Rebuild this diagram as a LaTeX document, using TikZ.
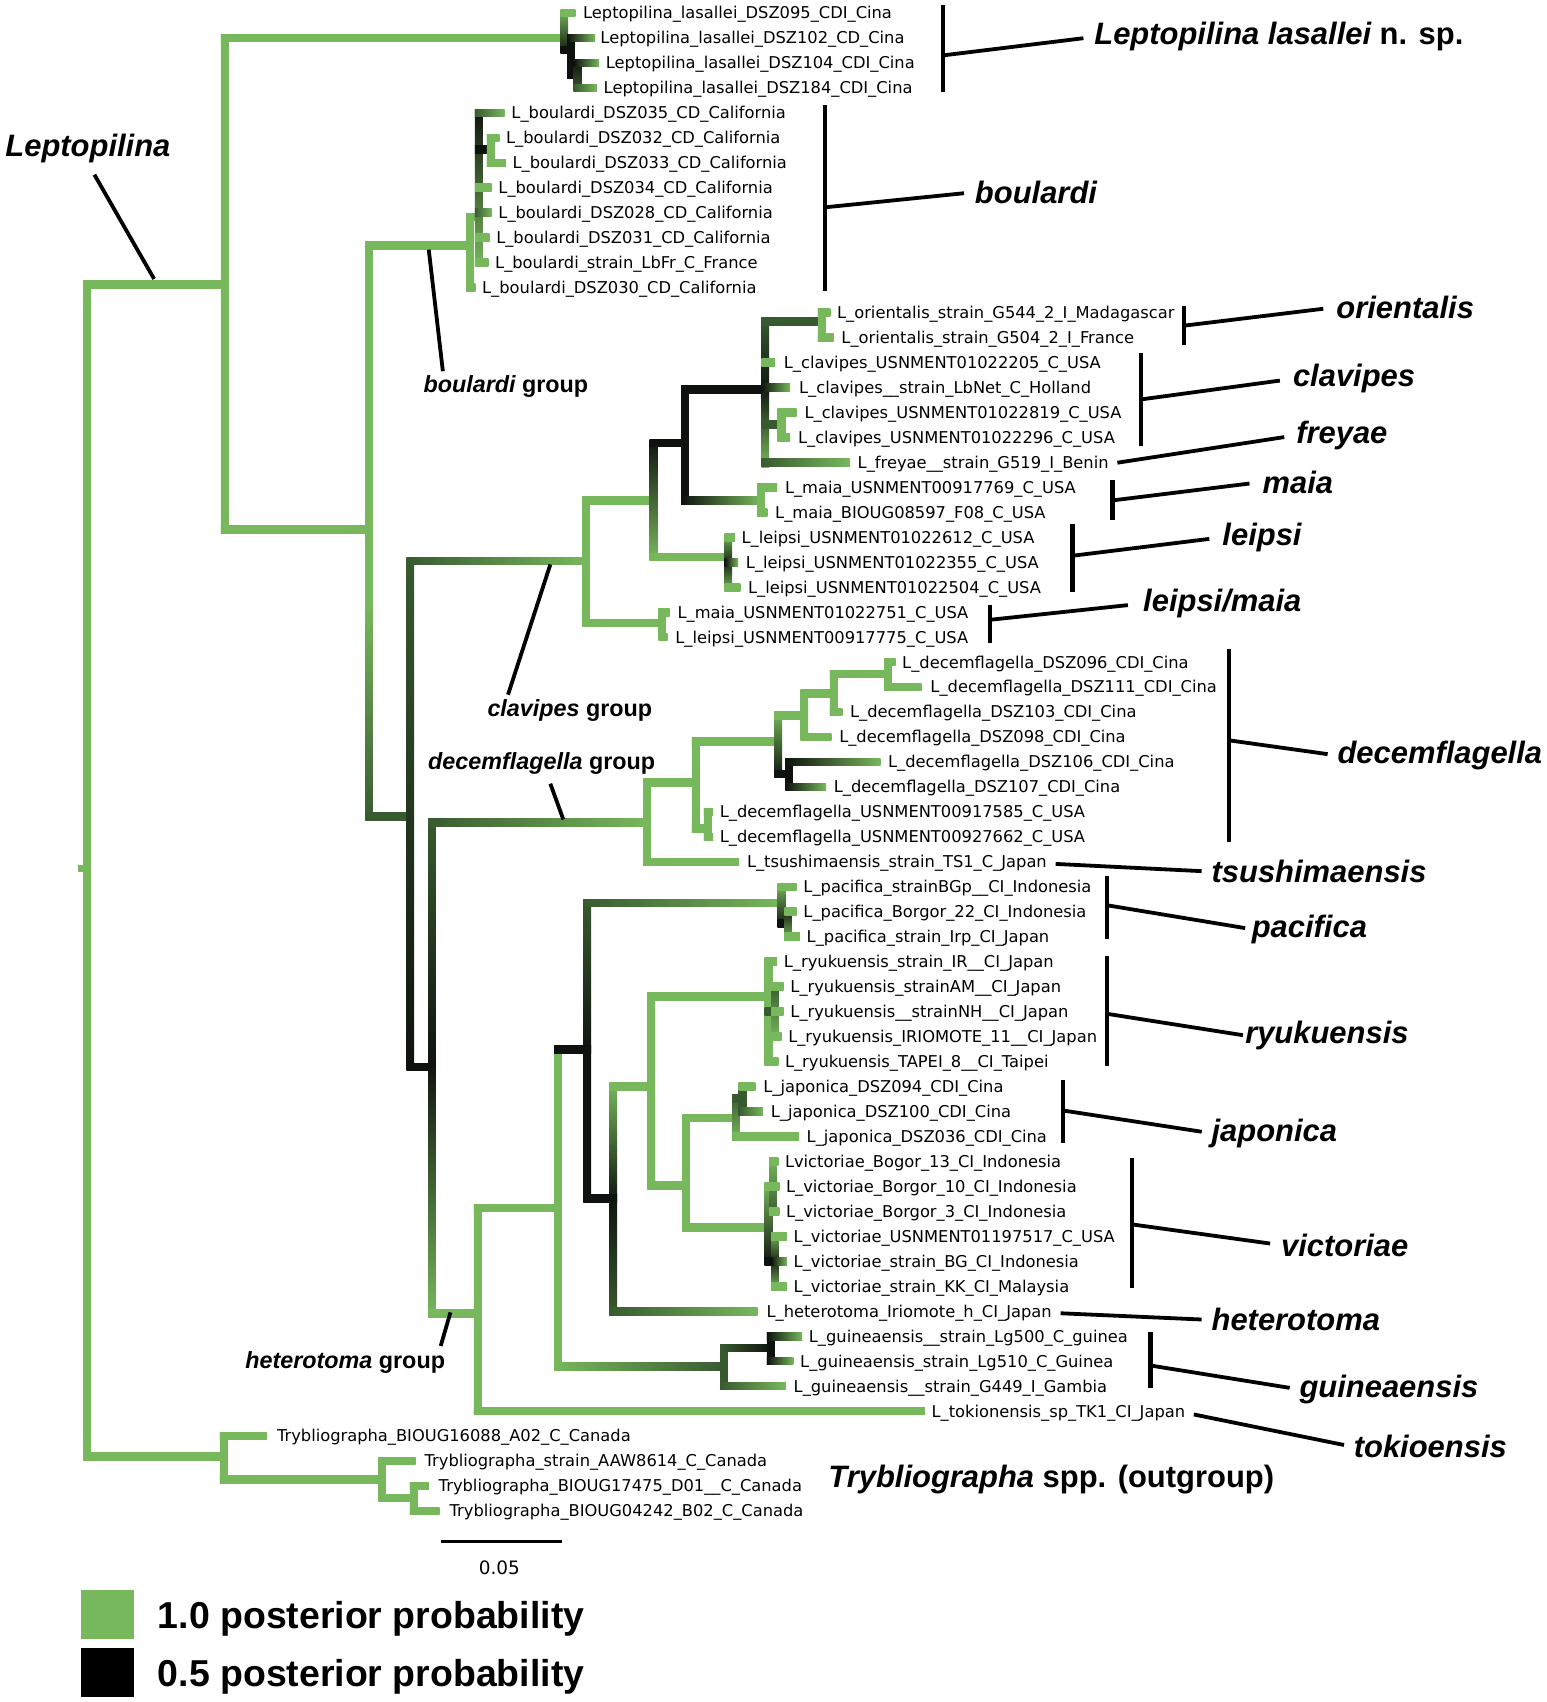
\documentclass[tikz,border=0pt]{standalone}
\usepackage{fontspec}
\usetikzlibrary{positioning}
\newfontfamily\leaffont{DejaVu Sans}
\newfontfamily\helv{Liberation Sans}
\definecolor{pg}{RGB}{120,184,92}
\definecolor{dg}{RGB}{56,90,48}
\definecolor{bk}{RGB}{14,18,14}
% horizontal branch: x1, x2, y, left colour, right colour
\newcommand\hbr[5]{\shade[left color=#4,right color=#5] (#1-3.5,#3-3.5) rectangle (#2,#3+3.5);}
% vertical branch: x, y1, y2, top colour, bottom colour
\newcommand\vbr[5]{\shade[top color=#4,bottom color=#5] (#1-3.5,#2-3.5) rectangle (#1+3.5,#3+3.5);}

\begin{document}
\begin{tikzpicture}[x=1pt,y=-1pt,
leaf/.style={anchor=west,inner sep=0pt,yshift=-1.5pt,font=\leaffont\fontsize{15}{17}\selectfont},
cl/.style={anchor=west,inner sep=0pt,font=\helv\bfseries\itshape\fontsize{28.5}{32}\selectfont},
grp/.style={inner sep=0pt,font=\helv\bfseries\fontsize{21.5}{24}\selectfont},
key/.style={minimum width=48pt,minimum height=45pt,inner sep=0pt},
lgd/.style={anchor=west,inner sep=0pt,font=\helv\bfseries\fontsize{34.5}{38}\selectfont},
brk/.style={line width=4pt},
lnk/.style={line width=3.5pt}]
\useasboundingbox (0,0) rectangle (1425,1568);
\fill[white] (0,0) rectangle (1425,1568);

% root and Leptopilina
\vbr{80}{262}{1342}{pg}{pg}\fill[pg] (72,797) rectangle (80,803);
\hbr{80}{207}{262}{pg}{pg}\vbr{207}{35}{488}{pg}{pg}
\hbr{207}{520}{35}{pg}{pg}
% lasallei
\vbr{520}{12}{46}{pg}{bk}\hbr{520}{530}{12}{pg}{pg}\hbr{520}{526}{46}{bk}{bk}
\vbr{526}{35}{69}{bk}{bk}\hbr{526}{548}{35}{bk}{pg}\hbr{526}{532}{69}{bk}{bk}
\vbr{532}{58}{81}{bk}{dg}\hbr{532}{552}{58}{bk}{pg}\hbr{532}{550}{81}{dg}{pg}
% boulardi group
\hbr{207}{340}{488}{pg}{pg}\vbr{340}{226}{560}{pg}{pg}\vbr{340}{560}{752}{pg}{dg}
\hbr{340}{433}{226}{pg}{pg}\vbr{433}{200}{265}{pg}{pg}\hbr{433}{438}{265}{pg}{pg}
\hbr{433}{441}{200}{pg}{pg}\vbr{441}{104}{242}{bk}{pg}
\hbr{441}{465}{104}{dg}{pg}\hbr{441}{452}{138}{bk}{bk}\vbr{452}{127}{150}{pg}{pg}
\hbr{452}{460}{127}{pg}{pg}\hbr{452}{466}{150}{pg}{pg}
\hbr{441}{453}{173}{pg}{pg}\hbr{441}{453}{196}{dg}{pg}\hbr{441}{451}{219}{pg}{pg}\hbr{441}{450}{242}{pg}{pg}
% clavipes group
\hbr{340}{378}{752}{dg}{dg}\vbr{378}{517}{983}{dg}{bk}
\hbr{378}{540}{517}{dg}{pg}\vbr{540}{461}{574}{pg}{pg}
\hbr{540}{602}{461}{pg}{pg}\vbr{602}{408}{513}{bk}{pg}
\hbr{602}{631}{408}{bk}{bk}\vbr{631}{359}{461}{bk}{bk}
\hbr{631}{705}{359}{bk}{bk}\vbr{705}{296}{359}{dg}{bk}\vbr{705}{359}{427}{bk}{pg}
\hbr{705}{757}{296}{dg}{dg}\vbr{757}{288}{311}{pg}{pg}\hbr{757}{765}{288}{pg}{pg}\hbr{757}{768}{311}{pg}{pg}
\hbr{705}{714}{334}{pg}{pg}\hbr{705}{728}{357}{bk}{pg}
\hbr{705}{720}{391}{dg}{dg}\vbr{720}{380}{403}{pg}{pg}\hbr{720}{734}{380}{pg}{pg}\hbr{720}{728}{403}{pg}{pg}
\hbr{705}{783}{426}{dg}{pg}
\hbr{631}{701}{461}{bk}{pg}\vbr{701}{449}{472}{pg}{pg}\hbr{701}{716}{449}{pg}{pg}\hbr{701}{707}{472}{pg}{pg}
\hbr{602}{671}{513}{pg}{pg}\vbr{671}{495}{518}{pg}{bk}\vbr{671}{518}{541}{bk}{pg}
\hbr{671}{677}{495}{pg}{pg}\hbr{671}{680}{518}{bk}{pg}\hbr{671}{682}{541}{pg}{pg}
\hbr{540}{610}{574}{pg}{pg}\vbr{610}{564}{587}{pg}{pg}\hbr{610}{617}{564}{pg}{pg}\hbr{610}{615}{587}{pg}{pg}
% decemflagella group
\hbr{378}{398}{983}{bk}{bk}\vbr{398}{758}{983}{dg}{bk}\vbr{398}{983}{1210}{bk}{pg}
\hbr{398}{596}{758}{dg}{pg}\vbr{596}{721}{794}{pg}{pg}\hbr{596}{681}{794}{pg}{pg}
\hbr{596}{641}{721}{pg}{pg}\vbr{641}{683}{763}{pg}{pg}
\hbr{641}{652}{763}{pg}{pg}\vbr{652}{748}{771}{pg}{pg}\hbr{652}{657}{748}{pg}{pg}\hbr{652}{657}{771}{pg}{pg}
\hbr{641}{717}{683}{pg}{pg}\vbr{717}{659}{713}{pg}{bk}
\hbr{717}{727}{713}{bk}{bk}\vbr{727}{702}{725}{bk}{bk}\hbr{727}{811}{702}{bk}{pg}\hbr{727}{761}{725}{bk}{pg}
\hbr{717}{741}{659}{pg}{pg}\vbr{741}{639}{679}{pg}{pg}\hbr{741}{766}{679}{pg}{pg}
\hbr{741}{768}{639}{pg}{pg}\vbr{768}{621}{656}{pg}{pg}\hbr{768}{776}{656}{pg}{pg}
\hbr{768}{818}{621}{pg}{pg}\vbr{818}{610}{633}{pg}{pg}\hbr{818}{825}{610}{pg}{pg}\hbr{818}{849}{633}{pg}{pg}
% heterotoma group
\hbr{398}{440}{1210}{pg}{pg}\vbr{440}{1113}{1300}{pg}{pg}\hbr{440}{852}{1300}{pg}{pg}
\hbr{440}{514}{1113}{pg}{pg}\vbr{514}{967}{1259}{pg}{pg}
\hbr{514}{541}{967}{bk}{bk}\vbr{541}{832}{967}{dg}{bk}\vbr{541}{967}{1104}{bk}{bk}
\hbr{541}{720}{832}{dg}{pg}\vbr{720}{817}{851}{pg}{bk}\hbr{720}{734}{817}{pg}{pg}
\hbr{720}{726}{851}{bk}{bk}\vbr{726}{840}{863}{bk}{pg}\hbr{726}{734}{840}{pg}{pg}\hbr{726}{737}{863}{pg}{pg}
\hbr{541}{565}{1104}{bk}{bk}\vbr{565}{1001}{1104}{pg}{bk}\vbr{565}{1104}{1208}{bk}{dg}
\hbr{565}{698}{1208}{dg}{pg}
\hbr{565}{600}{1001}{pg}{pg}\vbr{600}{918}{1092}{pg}{pg}
\hbr{600}{708}{918}{pg}{pg}\vbr{708}{886}{978}{pg}{pg}\hbr{708}{716}{886}{pg}{pg}
\hbr{708}{714}{932}{dg}{dg}\vbr{714}{909}{955}{dg}{pg}
\hbr{714}{722}{909}{pg}{pg}\hbr{714}{722}{932}{pg}{pg}\hbr{714}{720}{955}{pg}{pg}\hbr{708}{717}{978}{pg}{pg}
\hbr{600}{632}{1092}{pg}{pg}\vbr{632}{1030}{1131}{pg}{pg}
\hbr{632}{678}{1030}{pg}{pg}\vbr{678}{1012}{1047}{dg}{pg}
\hbr{678}{684}{1012}{dg}{dg}\vbr{684}{1001}{1024}{dg}{dg}\hbr{684}{696}{1001}{pg}{pg}\hbr{684}{703}{1024}{dg}{pg}
\hbr{678}{736}{1047}{pg}{pg}
\hbr{632}{708}{1131}{pg}{pg}\vbr{708}{1093}{1162}{pg}{bk}
\hbr{708}{712}{1093}{pg}{pg}\vbr{712}{1070}{1116}{pg}{dg}
\hbr{712}{717}{1070}{pg}{pg}\hbr{712}{718}{1093}{pg}{pg}\hbr{712}{718}{1116}{pg}{pg}
\hbr{708}{714}{1162}{bk}{bk}\vbr{714}{1139}{1162}{pg}{bk}\vbr{714}{1162}{1185}{bk}{pg}
\hbr{714}{725}{1139}{pg}{pg}\hbr{714}{725}{1162}{bk}{pg}\hbr{714}{725}{1185}{pg}{pg}
\hbr{514}{667}{1259}{pg}{dg}\vbr{667}{1242}{1277}{dg}{dg}
\hbr{667}{710}{1242}{dg}{bk}\vbr{710}{1231}{1254}{bk}{bk}
\hbr{710}{739}{1231}{bk}{pg}\hbr{710}{731}{1254}{bk}{pg}\hbr{667}{724}{1277}{dg}{pg}
% Trybliographa
\hbr{80}{206}{1342}{pg}{pg}\vbr{206}{1323}{1363}{pg}{pg}\hbr{206}{246}{1323}{pg}{pg}
\hbr{206}{352}{1363}{pg}{pg}\vbr{352}{1346}{1380}{pg}{pg}\hbr{352}{383}{1346}{pg}{pg}
\hbr{352}{381}{1380}{pg}{pg}\vbr{381}{1369}{1392}{pg}{pg}\hbr{381}{395}{1369}{pg}{pg}\hbr{381}{405}{1392}{pg}{pg}

% leaves
\node[leaf] (l1) at (537,12) {Leptopilina\_lasallei\_DSZ095\_CDI\_Cina};
\node[leaf] (l2) at (553,35) {Leptopilina\_lasallei\_DSZ102\_CD\_Cina};
\node[leaf] (l3) at (558,58) {Leptopilina\_lasallei\_DSZ104\_CDI\_Cina};
\node[leaf] (l4) at (556,81) {Leptopilina\_lasallei\_DSZ184\_CDI\_Cina};
\node[leaf] (l5) at (471,104) {L\_boulardi\_DSZ035\_CD\_California};
\node[leaf] (l6) at (466,127) {L\_boulardi\_DSZ032\_CD\_California};
\node[leaf] (l7) at (472,150) {L\_boulardi\_DSZ033\_CD\_California};
\node[leaf] (l8) at (459,173) {L\_boulardi\_DSZ034\_CD\_California};
\node[leaf] (l9) at (459,196) {L\_boulardi\_DSZ028\_CD\_California};
\node[leaf] (l10) at (457,219) {L\_boulardi\_DSZ031\_CD\_California};
\node[leaf] (l11) at (456,242) {L\_boulardi\_strain\_LbFr\_C\_France};
\node[leaf] (l12) at (444,265) {L\_boulardi\_DSZ030\_CD\_California};
\node[leaf] (l13) at (771,288) {L\_orientalis\_strain\_G544\_2\_I\_Madagascar};
\node[leaf] (l14) at (775,311) {L\_orientalis\_strain\_G504\_2\_I\_France};
\node[leaf] (l15) at (722,334) {L\_clavipes\_USNMENT01022205\_C\_USA};
\node[leaf] (l16) at (736,357) {L\_clavipes\_\_strain\_LbNet\_C\_Holland};
\node[leaf] (l17) at (741,380) {L\_clavipes\_USNMENT01022819\_C\_USA};
\node[leaf] (l18) at (735,403) {L\_clavipes\_USNMENT01022296\_C\_USA};
\node[leaf] (l19) at (790,426) {L\_freyae\_\_strain\_G519\_I\_Benin};
\node[leaf] (l20) at (723,449) {L\_maia\_USNMENT00917769\_C\_USA};
\node[leaf] (l21) at (714,472) {L\_maia\_BIOUG08597\_F08\_C\_USA};
\node[leaf] (l22) at (683,495) {L\_leipsi\_USNMENT01022612\_C\_USA};
\node[leaf] (l23) at (687,518) {L\_leipsi\_USNMENT01022355\_C\_USA};
\node[leaf] (l24) at (689,541) {L\_leipsi\_USNMENT01022504\_C\_USA};
\node[leaf] (l25) at (624,564) {L\_maia\_USNMENT01022751\_C\_USA};
\node[leaf] (l26) at (622,587) {L\_leipsi\_USNMENT00917775\_C\_USA};
\node[leaf] (l27) at (831,610) {L\_decemflagella\_DSZ096\_CDI\_Cina};
\node[leaf] (l28) at (857,633) {L\_decemflagella\_DSZ111\_CDI\_Cina};
\node[leaf] (l29) at (783,656) {L\_decemflagella\_DSZ103\_CDI\_Cina};
\node[leaf] (l30) at (773,679) {L\_decemflagella\_DSZ098\_CDI\_Cina};
\node[leaf] (l31) at (818,702) {L\_decemflagella\_DSZ106\_CDI\_Cina};
\node[leaf] (l32) at (768,725) {L\_decemflagella\_DSZ107\_CDI\_Cina};
\node[leaf] (l33) at (663,748) {L\_decemflagella\_USNMENT00917585\_C\_USA};
\node[leaf] (l34) at (663,771) {L\_decemflagella\_USNMENT00927662\_C\_USA};
\node[leaf] (l35) at (688,794) {L\_tsushimaensis\_strain\_TS1\_C\_Japan};
\node[leaf] (l36) at (740,817) {L\_pacifica\_strainBGp\_\_CI\_Indonesia};
\node[leaf] (l37) at (740,840) {L\_pacifica\_Borgor\_22\_CI\_Indonesia};
\node[leaf] (l38) at (743,863) {L\_pacifica\_strain\_Irp\_CI\_Japan};
\node[leaf] (l39) at (722,886) {L\_ryukuensis\_strain\_IR\_\_CI\_Japan};
\node[leaf] (l40) at (728,909) {L\_ryukuensis\_strainAM\_\_CI\_Japan};
\node[leaf] (l41) at (728,932) {L\_ryukuensis\_\_strainNH\_\_CI\_Japan};
\node[leaf] (l42) at (726,955) {L\_ryukuensis\_IRIOMOTE\_11\_\_CI\_Japan};
\node[leaf] (l43) at (723,978) {L\_ryukuensis\_TAPEI\_8\_\_CI\_Taipei};
\node[leaf] (l44) at (703,1001) {L\_japonica\_DSZ094\_CDI\_Cina};
\node[leaf] (l45) at (710,1024) {L\_japonica\_DSZ100\_CDI\_Cina};
\node[leaf] (l46) at (743,1047) {L\_japonica\_DSZ036\_CDI\_Cina};
\node[leaf] (l47) at (723,1070) {Lvictoriae\_Bogor\_13\_CI\_Indonesia};
\node[leaf] (l48) at (724,1093) {L\_victoriae\_Borgor\_10\_CI\_Indonesia};
\node[leaf] (l49) at (724,1116) {L\_victoriae\_Borgor\_3\_CI\_Indonesia};
\node[leaf] (l50) at (731,1139) {L\_victoriae\_USNMENT01197517\_C\_USA};
\node[leaf] (l51) at (731,1162) {L\_victoriae\_strain\_BG\_CI\_Indonesia};
\node[leaf] (l52) at (731,1185) {L\_victoriae\_strain\_KK\_CI\_Malaysia};
\node[leaf] (l53) at (706,1208) {L\_heterotoma\_Iriomote\_h\_CI\_Japan};
\node[leaf] (l54) at (745,1231) {L\_guineaensis\_\_strain\_Lg500\_C\_guinea};
\node[leaf] (l55) at (737,1254) {L\_guineaensis\_strain\_Lg510\_C\_Guinea};
\node[leaf] (l56) at (731,1277) {L\_guineaensis\_\_strain\_G449\_I\_Gambia};
\node[leaf] (l57) at (858,1300) {L\_tokionensis\_sp\_TK1\_CI\_Japan};
\node[leaf] (l58) at (255,1323) {Trybliographa\_BIOUG16088\_A02\_C\_Canada};
\node[leaf] (l59) at (391,1346) {Trybliographa\_strain\_AAW8614\_C\_Canada};
\node[leaf] (l60) at (404,1369) {Trybliographa\_BIOUG17475\_D01\_\_C\_Canada};
\node[leaf] (l61) at (414,1392) {Trybliographa\_BIOUG04242\_B02\_C\_Canada};

% species labels and brackets
\node[cl] (lasl) at (1008,34) {Leptopilina lasallei \upshape n. sp.};
\node[cl] (boul) at (898,177) {boulardi};
\node[cl] (orie) at (1231,283) {orientalis};
\node[cl] (clav) at (1191,349) {clavipes};
\node[cl] (frey) at (1194,401) {freyae};
\node[cl] (maia) at (1163,444) {maia};
\node[cl] (leip) at (1126,495) {leipsi};
\node[cl] (lema) at (1053,556) {leipsi/maia};
\node[cl] (deca) at (1232,696) {decemflagella};
\node[cl] (tsus) at (1116,803) {tsushimaensis};
\node[cl] (paci) at (1153,856) {pacifica};
\node[cl] (ryuk) at (1147,954) {ryukuensis};
\node[cl] (japo) at (1116,1044) {japonica};
\node[cl] (vict) at (1180,1147) {victoriae};
\node[cl] (hete) at (1116,1216) {heterotoma};
\node[cl] (guin) at (1197,1280) {guineaensis};
\node[cl] (toki) at (1247,1333) {tokioensis};
\node[cl] (tryb) at (763,1363) {Trybliographa \upshape spp. (outgroup)};
\draw[brk] (869,5) -- (869,85);\coordinate (c1) at (869,51);\draw[lnk,shorten >=10pt] (c1) -- (lasl.west);
\draw[brk] (760,97) -- (760,268);\coordinate (c2) at (760,191);\draw[lnk,shorten >=10pt] (c2) -- (boul.west);
\draw[brk] (1091,282) -- (1091,318);\coordinate (c3) at (1091,300);\draw[lnk,shorten >=12pt] (c3) -- (orie.west);
\draw[brk] (1051,325) -- (1051,411);\coordinate (c4) at (1051,368);\draw[lnk,shorten >=12pt] (c4) -- (clav.west);
\draw[lnk,shorten <=8pt,shorten >=11pt] (l19.east) -- (frey.west);
\draw[brk] (1025,442) -- (1025,479);\coordinate (c6) at (1025,461);\draw[lnk,shorten >=12pt] (c6) -- (maia.west);
\draw[brk] (988,483) -- (988,545);\coordinate (c7) at (988,512);\draw[lnk,shorten >=12pt] (c7) -- (leip.west);
\draw[brk] (912,557) -- (912,592);\coordinate (c8) at (912,571);\draw[lnk,shorten >=14pt] (c8) -- (lema.west);
\draw[brk] (1132,598) -- (1132,776);\coordinate (c9) at (1132,682);\draw[lnk,shorten >=9pt] (c9) -- (deca.west);
\draw[lnk,shorten <=8pt,shorten >=9pt] (l35.east) -- (tsus.west);
\draw[brk] (1020,807) -- (1020,865);\coordinate (c11) at (1020,834);\draw[lnk,shorten >=6pt] (c11) -- (paci.west);
\draw[brk] (1020,881) -- (1020,982);\coordinate (c12) at (1020,934);\draw[lnk,shorten >=2pt] (c12) -- (ryuk.west);
\draw[brk] (979,995) -- (979,1053);\coordinate (c13) at (979,1023);\draw[lnk,shorten >=9pt] (c13) -- (japo.west);
\draw[brk] (1043,1067) -- (1043,1187);\coordinate (c14) at (1043,1128);\draw[lnk,shorten >=10pt] (c14) -- (vict.west);
\draw[lnk,shorten <=8pt,shorten >=9pt] (l53.east) -- (hete.west);
\draw[brk] (1060,1227) -- (1060,1279);\coordinate (c16) at (1060,1258);\draw[lnk,shorten >=9pt] (c16) -- (guin.west);
\draw[lnk,shorten <=8pt,shorten >=9pt] (l57.east) -- (toki.west);

% group labels
\node[grp,font=\helv\bfseries\itshape\fontsize{28.5}{32}\selectfont] (lepto) at (81,137) {Leptopilina};
\node[grp] (bgrp) at (466,356) {\itshape boulardi\upshape{} group};
\node[grp] (cgrp) at (525,655) {\itshape clavipes\upshape{} group};
\node[grp] (dgrp) at (499,703) {\itshape decemflagella\upshape{} group};
\node[grp] (hgrp) at (318,1255) {\itshape heterotoma\upshape{} group};
\coordinate (g1) at (142,257);\draw[lnk,shorten <=12pt] (lepto.south) -- (g1);
\coordinate (g2a) at (395,230);\coordinate (g2b) at (408,342);\draw[lnk] (g2a) -- (g2b);
\coordinate (g3a) at (507,520);\coordinate (g3b) at (468,640);\draw[lnk] (g3a) -- (g3b);
\coordinate (g4a) at (507,722);\coordinate (g4b) at (519,755);\draw[lnk] (g4a) -- (g4b);
\coordinate (g5a) at (415,1209);\coordinate (g5b) at (406,1240);\draw[lnk] (g5a) -- (g5b);

% scale bar and legend
\coordinate (s0) at (406,1420);\coordinate (s1) at (518,1420);\draw[line width=2.5pt] (s0) -- (s1);
\node[leaf,anchor=center,font=\leaffont\fontsize{17}{19}\selectfont] (sc) at (460,1443) {0.05};
\node[key,fill=pg] (k1) at (99,1487) {};
\node[key,fill=black] (k2) at (99,1541) {};
\node[lgd,right=22pt of k1,yshift=-4pt] (t1) {1.0 posterior probability};
\node[lgd,right=22pt of k2,yshift=-4pt] (t2) {0.5 posterior probability};
\end{tikzpicture}
\end{document}
